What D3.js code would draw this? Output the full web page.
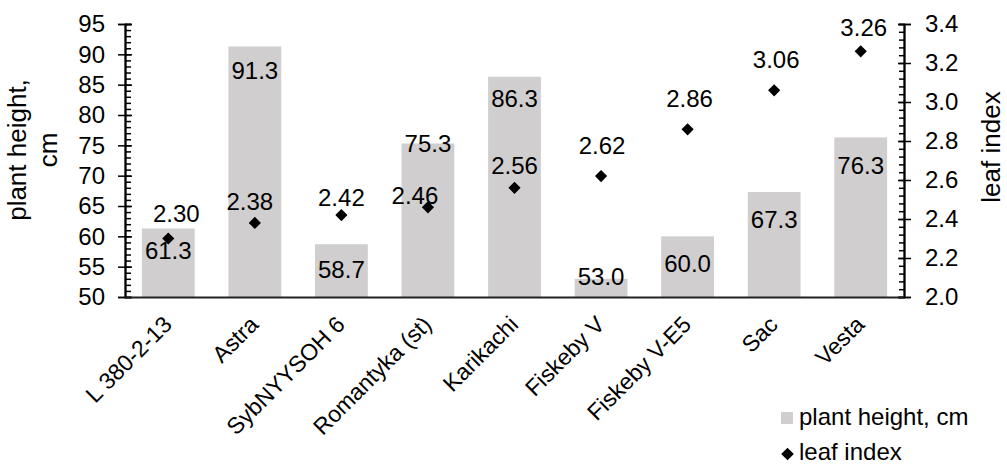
<!DOCTYPE html>
<html>
<head>
<meta charset="utf-8">
<script src="https://cdn.jsdelivr.net/npm/d3@7"></script>
<style>
  html, body { margin: 0; padding: 0; background: #fff; }
  svg { display: block; font-family: "Liberation Sans", Arial, sans-serif; }
</style>
</head>
<body>
<svg id="chart" width="1007" height="466"></svg>
<script>
// ---- data ----
const categories = ["L 380-2-13", "Astra", "SybNYYSOH 6", "Romantyka (st)", "Karikachi",
                    "Fiskeby V", "Fiskeby V-E5", "Sac", "Vesta"];
const plantHeight = [61.3, 91.3, 58.7, 75.3, 86.3, 53.0, 60.0, 67.3, 76.3];
const leafIndex = [2.30, 2.38, 2.42, 2.46, 2.56, 2.62, 2.86, 3.06, 3.26];
const leftTicks = [50, 55, 60, 65, 70, 75, 80, 85, 90, 95];
const rightTicks = [2.0, 2.2, 2.4, 2.6, 2.8, 3.0, 3.2, 3.4];
const seriesNames = ["plant height, cm", "leaf index"];

// label placement tweaks (pixels), as in the original chart
const barLabelShift = [22, 24, 25, 0, 21.5, -2, 27, 28, 28];
const leafLabelShiftY = [-25, -21, -18, -12, -22, -31, -31, -31, -24];
const leafLabelShiftX = [8, -5, 0, -13, 0, 1, 2, 2, 3];

// ---- layout ----
const svg = d3.select("#chart");
const x0 = 125, x1 = 904, yTop = 24, yBot = 297;
const barColor = "#d0cece";
const fs = 24;

const x = d3.scaleBand().domain(categories).range([x0, x1]).paddingInner(0.39).paddingOuter(0.195);
const yL = d3.scaleLinear().domain([50, 95]).range([yBot, yTop]);
const yR = d3.scaleLinear().domain([2.0, 3.4]).range([yBot, yTop]);

// bars
svg.append("g").selectAll("rect").data(plantHeight).join("rect")
  .attr("x", (d, i) => x(categories[i]))
  .attr("width", x.bandwidth())
  .attr("y", d => yL(d))
  .attr("height", d => yBot - yL(d))
  .attr("fill", barColor);

// bar labels
svg.append("g").selectAll("text").data(plantHeight).join("text")
  .attr("x", (d, i) => x(categories[i]) + x.bandwidth() / 2)
  .attr("y", (d, i) => yL(d) + barLabelShift[i])
  .attr("dy", "0.35em")
  .attr("text-anchor", "middle")
  .attr("font-size", fs)
  .attr("fill", "#000")
  .text(d => d.toFixed(1));

// left axis
const gL = svg.append("g").attr("transform", `translate(${x0},0)`);
gL.call(d3.axisRight(yL).tickValues(d3.range(50, 96, 1)).tickSize(6).tickFormat(""));
gL.append("g").call(d3.axisLeft(yL).tickValues(leftTicks).tickSize(7).tickFormat(""));
gL.append("g").call(d3.axisRight(yL).tickValues(leftTicks).tickSize(7).tickFormat(""));
gL.selectAll("path.domain").attr("stroke", "#000").attr("stroke-width", 1.6);
gL.selectAll(".tick line").attr("stroke", "#000").attr("stroke-width", 1.5);
gL.append("g").selectAll("text").data(leftTicks).join("text")
  .attr("x", -20).attr("y", d => yL(d)).attr("dy", "0.35em")
  .attr("text-anchor", "end").attr("font-size", fs).attr("fill", "#000")
  .text(d => d);

// right axis
const gR = svg.append("g").attr("transform", `translate(${x1},0)`);
gR.call(d3.axisLeft(yR).tickValues(d3.range(0, 36).map(i => 2 + i * 0.04)).tickSize(5).tickFormat(""));
gR.append("g").call(d3.axisLeft(yR).tickValues(rightTicks).tickSize(6).tickFormat(""));
gR.append("g").call(d3.axisRight(yR).tickValues(rightTicks).tickSize(7).tickFormat(""));
gR.selectAll("path.domain").attr("stroke", "#000").attr("stroke-width", 1.6);
gR.selectAll(".tick line").attr("stroke", "#000").attr("stroke-width", 1.5);
gR.append("g").selectAll("text").data(rightTicks).join("text")
  .attr("x", 21).attr("y", d => yR(d)).attr("dy", "0.35em")
  .attr("text-anchor", "start").attr("font-size", fs).attr("fill", "#000")
  .text(d => d.toFixed(1));

// bottom axis line
const gB = svg.append("g").attr("transform", `translate(0,${yBot})`);
gB.call(d3.axisBottom(x).tickSize(0).tickFormat(""));
gB.select("path.domain").attr("stroke", "#222").attr("stroke-width", 2);

// category labels
svg.append("g").selectAll("text").data(categories).join("text")
  .attr("transform", d => `translate(${x(d) + x.bandwidth() / 2 + 5},326) rotate(-45)`)
  .attr("text-anchor", "end").attr("font-size", 23).attr("fill", "#000")
  .text(d => d);

// leaf index points
const diamond = d3.symbol(d3.symbolSquare, 74);
svg.append("g").selectAll("path").data(leafIndex).join("path")
  .attr("d", diamond)
  .attr("transform", (d, i) => `translate(${x(categories[i]) + x.bandwidth() / 2},${yR(d)}) rotate(45)`)
  .attr("fill", "#000");

svg.append("g").selectAll("text").data(leafIndex).join("text")
  .attr("x", (d, i) => x(categories[i]) + x.bandwidth() / 2 + leafLabelShiftX[i])
  .attr("y", (d, i) => yR(d) + leafLabelShiftY[i])
  .attr("dy", "0.35em")
  .attr("text-anchor", "middle").attr("font-size", fs).attr("fill", "#000")
  .text(d => d.toFixed(2));

// axis titles
svg.append("text")
  .attr("transform", "translate(26,150) rotate(-90)")
  .attr("text-anchor", "middle").attr("font-size", 26).attr("fill", "#000")
  .text("plant height,");
svg.append("text")
  .attr("transform", "translate(57,150) rotate(-90)")
  .attr("text-anchor", "middle").attr("font-size", 26).attr("fill", "#000")
  .text("cm");
svg.append("text")
  .attr("transform", "translate(1000,147) rotate(-90)")
  .attr("text-anchor", "middle").attr("font-size", 26).attr("fill", "#000")
  .text("leaf index");

// legend
const lg = svg.append("g");
lg.append("rect").attr("x", 781).attr("y", 412).attr("width", 12).attr("height", 12).attr("fill", barColor);
lg.append("text").attr("x", 799).attr("y", 425).attr("font-size", fs).attr("fill", "#000").text(seriesNames[0]);
lg.append("path").attr("d", d3.symbol(d3.symbolSquare, 80)).attr("transform", "translate(787.5,454) rotate(45)").attr("fill", "#000");
lg.append("text").attr("x", 799).attr("y", 460).attr("font-size", fs).attr("fill", "#000").text(seriesNames[1]);
</script>
</body>
</html>
